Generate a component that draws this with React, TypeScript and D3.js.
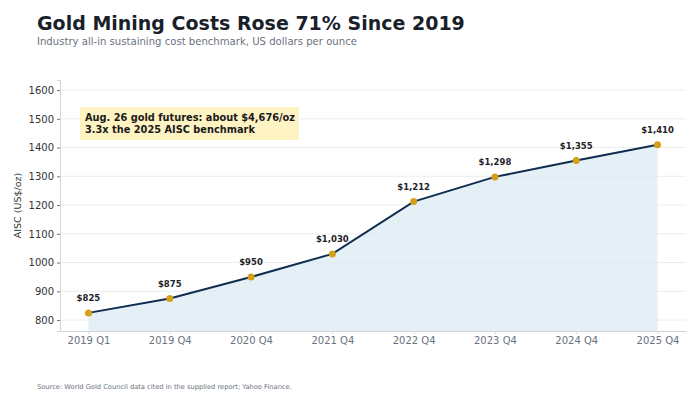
import { useEffect, useRef } from "react"
import * as d3 from "d3"

const periods = ["2019 Q1", "2019 Q4", "2020 Q4", "2021 Q4", "2022 Q4", "2023 Q4", "2024 Q4", "2025 Q4"]
const aisc = [825, 875, 950, 1030, 1212, 1298, 1355, 1410]
const yTicks = [800, 900, 1000, 1100, 1200, 1300, 1400, 1500, 1600]
const noteLines = ["Aug. 26 gold futures: about $4,676/oz", "3.3x the 2025 AISC benchmark"]

const W = 700
const H = 406
const FONT = "DejaVu Sans, sans-serif"

export default function App() {
  const svgRef = useRef<SVGSVGElement>(null)

  useEffect(() => {
    const svg = d3.select(svgRef.current)
    svg.selectAll("*").remove()

    const margin = { top: 80, right: 14, bottom: 75, left: 60 }
    const width = W - margin.left - margin.right
    const height = H - margin.top - margin.bottom

    const x = d3.scalePoint<string>().domain(periods).range([0, width]).padding(0.35)
    const y = d3.scaleLinear().domain([762, 1635]).range([height, 0])

    const data = periods.map((p, i) => ({ p, v: aisc[i] }))

    // Titles
    svg.append("text")
      .attr("x", 37).attr("y", 30)
      .attr("font-family", FONT).attr("font-size", 19).attr("font-weight", "bold")
      .attr("fill", "#1a1f2b")
      .text("Gold Mining Costs Rose 71% Since 2019")
    svg.append("text")
      .attr("x", 37).attr("y", 45)
      .attr("font-family", FONT).attr("font-size", 10.1)
      .attr("fill", "#6b7280")
      .text("Industry all-in sustaining cost benchmark, US dollars per ounce")

    const g = svg.append("g").attr("transform", `translate(${margin.left},${margin.top})`)

    // Grid
    g.append("g")
      .selectAll("line")
      .data(yTicks)
      .join("line")
      .attr("x1", 0).attr("x2", width)
      .attr("y1", d => y(d)).attr("y2", d => y(d))
      .attr("stroke", "#e5e7eb").attr("stroke-width", 0.8)

    // Area
    const area = d3.area<{ p: string; v: number }>()
      .x(d => x(d.p)!)
      .y0(height)
      .y1(d => y(d.v))
    g.append("path")
      .datum(data)
      .attr("d", area)
      .attr("fill", "#dbe9f3")
      .attr("opacity", 0.75)

    // Axes
    const yAxis = g.append("g")
      .call(d3.axisLeft(y).tickValues(yTicks).tickFormat(d3.format("d")).tickSize(3).tickPadding(3))
    yAxis.select(".domain").attr("stroke", "#d1d5db")
    yAxis.selectAll(".tick line").attr("stroke", "#6b7280")
    yAxis.selectAll(".tick text")
      .attr("font-family", FONT).attr("font-size", 10).attr("fill", "#333")

    const xAxis = g.append("g")
      .attr("transform", `translate(0,${height})`)
      .call(d3.axisBottom(x).tickSize(3).tickPadding(3).tickSizeOuter(0))
    xAxis.select(".domain").attr("stroke", "#d1d5db")
    xAxis.selectAll(".tick line").attr("stroke", "#d1d5db")
    xAxis.selectAll(".tick text")
      .attr("font-family", FONT).attr("font-size", 10).attr("fill", "#6b7280")

    // Line
    const line = d3.line<{ p: string; v: number }>()
      .x(d => x(d.p)!)
      .y(d => y(d.v))
    g.append("path")
      .datum(data)
      .attr("d", line)
      .attr("fill", "none")
      .attr("stroke", "#0f2d4f")
      .attr("stroke-width", 2)

    // Points
    g.selectAll(".pt")
      .data(data)
      .join("circle")
      .attr("class", "pt")
      .attr("cx", d => x(d.p)!)
      .attr("cy", d => y(d.v))
      .attr("r", 3.5)
      .attr("fill", "#d4a017")

    // Value labels
    g.selectAll(".lbl")
      .data(data)
      .join("text")
      .attr("class", "lbl")
      .attr("x", d => x(d.p)!)
      .attr("y", d => y(d.v) - 12)
      .attr("text-anchor", "middle")
      .attr("font-family", FONT).attr("font-size", 8.5).attr("font-weight", "bold")
      .attr("fill", "#1f2328")
      .text(d => `$${d3.format(",")(d.v)}`)

    // Annotation
    const note = g.append("g").attr("transform", `translate(${80 - margin.left},${107 - margin.top})`)
    note.append("rect")
      .attr("width", 219).attr("height", 33)
      .attr("fill", "#fef3c3")
    note.selectAll("text")
      .data(noteLines)
      .join("text")
      .attr("x", 5)
      .attr("y", (d, i) => 14 + i * 12)
      .attr("font-family", FONT).attr("font-size", 9.8).attr("font-weight", "bold")
      .attr("fill", "#1a1a1a")
      .text(d => d)

    // Y label
    svg.append("text")
      .attr("transform", `translate(21,${margin.top + height / 2}) rotate(-90)`)
      .attr("text-anchor", "middle")
      .attr("font-family", FONT).attr("font-size", 9.5)
      .attr("fill", "#333")
      .text("AISC (US$/oz)")

    // Source
    svg.append("text")
      .attr("x", 37).attr("y", 389)
      .attr("font-family", FONT).attr("font-size", 6.7)
      .attr("fill", "#6b7280")
      .text("Source: World Gold Council data cited in the supplied report; Yahoo Finance.")
  }, [])

  return (
    <div style={{ margin: -8 }}>
      <svg ref={svgRef} width={W} height={H} style={{ display: "block", background: "#fff" }} />
    </div>
  )
}
